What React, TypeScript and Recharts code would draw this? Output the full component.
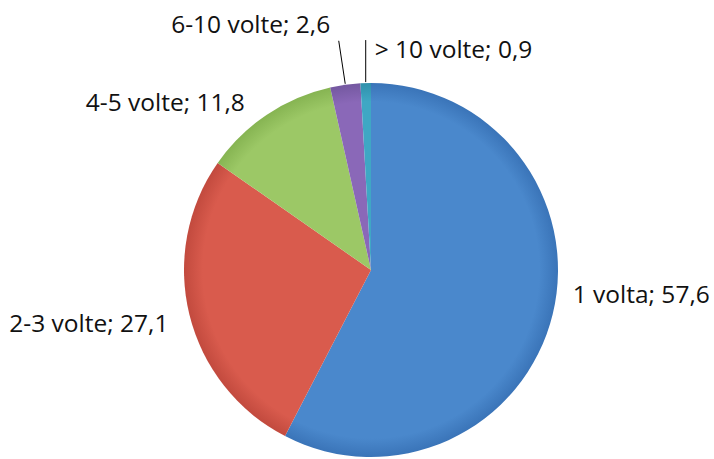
import React from "react";
import { PieChart, Pie, Cell } from "recharts";

const categories = ["1 volta", "2-3 volte", "4-5 volte", "6-10 volte", "> 10 volte"];
const values = [57.6, 27.1, 11.8, 2.6, 0.9];
const valueLabels = ["57,6", "27,1", "11,8", "2,6", "0,9"];
const colors = ["#4a88cc", "#d95b4d", "#9cc866", "#8a68b8", "#3fa7c4"];
const rimColors = ["#3a74b8", "#c24a3e", "#86b452", "#7458a0", "#2f90ab"];

const data = categories.map((name, i) => ({ name, value: values[i], label: valueLabels[i] }));

// label layout: offset of text anchor from the slice's outer mid-point
const labelLayout = [
  { dx: 20, dy: -21, anchor: "start", leader: false, lx: 0, ly: 0 },
  { dx: -21, dy: 8, anchor: "end", leader: false, lx: 0, ly: 0 },
  { dx: -22, dy: -13, anchor: "end", leader: false, lx: 0, ly: 0 },
  { dx: -15, dy: -61, anchor: "end", leader: true, lx: -6.5, ly: -44 },
  { dx: 9, dy: -35, anchor: "start", leader: true, lx: 0, ly: -43 },
];

const RADIAN = Math.PI / 180;
const CX = 371;
const CY = 270;
const R = 187;

const renderLabel = (props: any) => {
  const { cx, cy, midAngle, outerRadius, index } = props;
  const px = cx + outerRadius * Math.cos(-midAngle * RADIAN);
  const py = cy + outerRadius * Math.sin(-midAngle * RADIAN);
  const l = labelLayout[index];
  const d = data[index];
  return (
    <g key={`lbl-${index}`}>
      {l.leader && (
        <line x1={px} y1={py - 1} x2={px + l.lx} y2={py + l.ly} stroke="#000" strokeWidth={1} />
      )}
      <text
        x={px + l.dx}
        y={py + l.dy}
        textAnchor={l.anchor as any}
        dominantBaseline="central"
        fontFamily="'Open Sans', 'Noto Sans', sans-serif"
        fontSize={24.5}
        fill="#111"
      >
        {`${d.name}; ${d.label}`}
      </text>
    </g>
  );
};

export default function App() {
  return (
    <div style={{ position: "fixed", left: 0, top: 0, width: 714, height: 459, background: "#fff" }}>
      <PieChart width={714} height={459} margin={{ top: 0, right: 0, bottom: 0, left: 0 }}>
        <defs>
          {colors.map((c, i) => (
            <radialGradient key={i} id={`grad${i}`} gradientUnits="userSpaceOnUse" cx={CX} cy={CY} r={R}>
              <stop offset="0%" stopColor={c} />
              <stop offset="90%" stopColor={c} />
              <stop offset="100%" stopColor={rimColors[i]} />
            </radialGradient>
          ))}
        </defs>
        <Pie
          data={data}
          dataKey="value"
          nameKey="name"
          cx={CX}
          cy={CY}
          outerRadius={R}
          startAngle={90}
          endAngle={-270}
          stroke="none"
          isAnimationActive={false}
          label={renderLabel}
          labelLine={false}
        >
          {data.map((_, i) => (
            <Cell key={i} fill={`url(#grad${i})`} />
          ))}
        </Pie>
      </PieChart>
    </div>
  );
}
